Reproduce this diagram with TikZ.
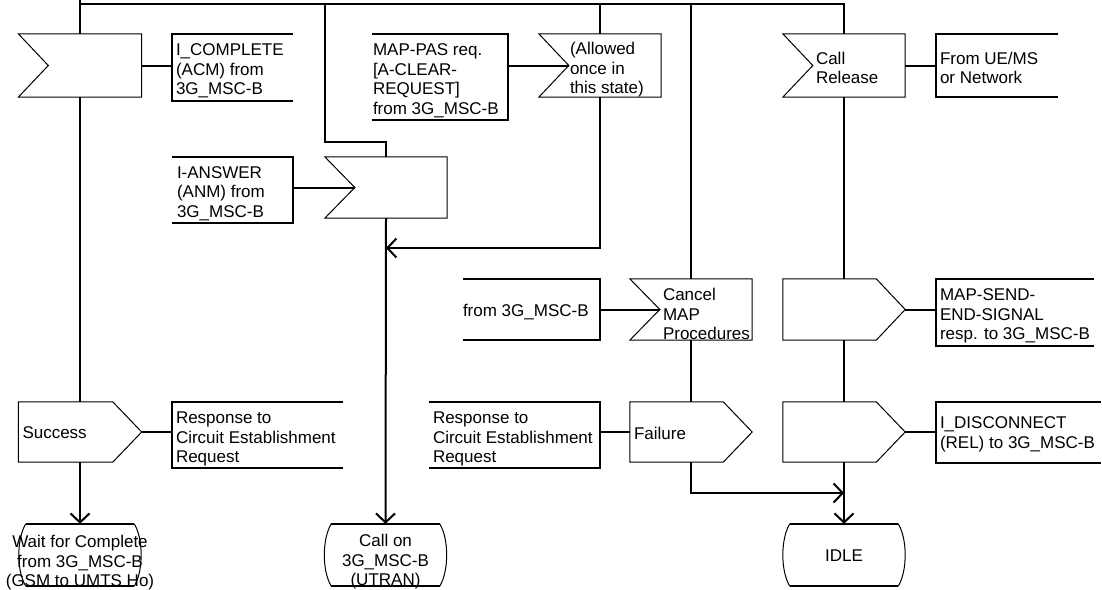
\documentclass[tikz,border=0pt]{standalone}
\usepackage{fontspec}
\setmainfont{Liberation Sans}
\usetikzlibrary{calc,arrows.meta}

% SDL symbol outlines, drawn around plain rectangle nodes
\newcommand{\drawinput}[1]{%
  \coordinate (#1n) at ($(#1.west)+(30,0)$);
  \draw[outline] (#1.north west) -- (#1.north east) -- (#1.south east)
    -- (#1.south west) -- (#1n) -- cycle;}
\newcommand{\drawoutput}[1]{%
  \draw[outline] (#1.north west) -- ($(#1.north east)+(-29,0)$) -- (#1.east)
    -- ($(#1.south east)+(-29,0)$) -- (#1.south west) -- cycle;}
\newcommand{\drawstate}[1]{%
  \draw[edge] ($(#1.north west)+(7,0)$) -- ($(#1.north east)+(-7,0)$);
  \draw[edge] ($(#1.south west)+(7,0)$) -- ($(#1.south east)+(-7,0)$);
  \draw[outline] ($(#1.north east)+(-7,0)$) .. controls ($(#1.north east)+(2.3,15)$)
    and ($(#1.south east)+(2.3,-15)$) .. ($(#1.south east)+(-7,0)$);
  \draw[outline] ($(#1.north west)+(7,0)$) .. controls ($(#1.north west)+(-2.3,15)$)
    and ($(#1.south west)+(-2.3,-15)$) .. ($(#1.south west)+(7,0)$);}
% comment brackets: open to the right / open to the left
\newcommand{\drawnoteR}[1]{%
  \draw[bracket] (#1.north east) -- (#1.north west) -- (#1.south west) -- (#1.south east);}
\newcommand{\drawnoteL}[1]{%
  \draw[bracket] (#1.north west) -- (#1.north east) -- (#1.south east) -- (#1.south west);}

\tikzset{
  every node/.style={font=\fontsize{17pt}{19.5pt}\selectfont, inner sep=0pt},
  sym/.style={rectangle, draw=none},
  label/.style={align=left, anchor=west},
  statetext/.style={align=center},
  outline/.style={line width=1pt, line join=miter},
  edge/.style={line width=2pt},
  bracket/.style={line width=2pt},
  flow/.style={line width=2pt},
  flowarrow/.style={flow, -{Straight Barb[length=9pt,width=19pt]}},
}

\begin{document}
\begin{tikzpicture}[x=1pt,y=-1pt]
\useasboundingbox (0,0) rectangle (1102,589);

% ---- signal and state symbols
\node[sym, minimum width=123pt, minimum height=63pt] (inA) at (80,65.5) {};
\node[sym, minimum width=122pt, minimum height=63pt] (inB) at (600,65.5) {};
\node[sym, minimum width=122pt, minimum height=63pt] (inC) at (844,65.5) {};
\node[sym, minimum width=122pt, minimum height=61pt] (inD) at (386,187.5) {};
\node[sym, minimum width=122pt, minimum height=61pt] (inE) at (691,309.5) {};
\node[sym, minimum width=123pt, minimum height=60pt] (outA) at (80,432) {};
\node[sym, minimum width=122pt, minimum height=60pt] (outB) at (691,432) {};
\node[sym, minimum width=122pt, minimum height=61pt] (outC) at (844,309.5) {};
\node[sym, minimum width=122pt, minimum height=60pt] (outD) at (844,432) {};
\node[sym, minimum width=122pt, minimum height=62pt] (sA) at (80,555) {};
\node[sym, minimum width=122pt, minimum height=62pt] (sB) at (385.5,555) {};
\node[sym, minimum width=122pt, minimum height=62pt] (sC) at (844,555) {};

\drawinput{inA} \drawinput{inB} \drawinput{inC} \drawinput{inD} \drawinput{inE}
\drawoutput{outA} \drawoutput{outB} \drawoutput{outC} \drawoutput{outD}
\drawstate{sA} \drawstate{sB} \drawstate{sC}

% ---- symbol texts
\node[label] (inBt) at ($(inBn)+(1,4.5)$) {(Allowed\\once in\\this state)};
\node[label] (inCt) at ($(inCn)+(3,2.5)$) {Call\\Release};
\node[label] (inEt) at ($(inEn)+(3,4.5)$) {Cancel\\MAP\\Procedures};
\node[label] (outAt) at ($(outA.west)+(4,1)$) {Success};
\node[label] (outBt) at ($(outB.west)+(4,1)$) {Failure};
\node[statetext] (sAt) at ($(sA)+(0,8)$) {Wait for Complete\\from 3G\_MSC-B\\(GSM to UMTS Ho)};
\node[statetext] (sBt) at ($(sB)+(0,7)$) {Call on\\3G\_MSC-B\\(UTRAN)};
\node[statetext] (sCt) at ($(sC)+(0,1)$) {IDLE};

% ---- comment brackets
\node[sym, minimum width=121pt, minimum height=67pt] (cA) at (232.5,67.5) {};
\node[sym, minimum width=136pt, minimum height=86pt] (cB) at (440,77) {};
\node[sym, minimum width=122pt, minimum height=63pt] (cC) at (997,65.5) {};
\node[sym, minimum width=121pt, minimum height=66pt] (cD) at (232.5,190) {};
\node[sym, minimum width=137pt, minimum height=61pt] (cE) at (531.5,309.5) {};
\node[sym, minimum width=158pt, minimum height=67pt] (cF) at (1015,312.5) {};
\node[sym, minimum width=171pt, minimum height=66pt] (cG) at (257.5,435) {};
\node[sym, minimum width=171pt, minimum height=66pt] (cH) at (514.5,435) {};
\node[sym, minimum width=165pt, minimum height=61pt] (cI) at (1018.5,432.5) {};

\drawnoteR{cA} \drawnoteL{cB} \drawnoteR{cC} \drawnoteL{cD} \drawnoteL{cE}
\drawnoteR{cF} \drawnoteR{cG} \drawnoteL{cH} \drawnoteR{cI}

\node[label] (cAt) at ($(cA.west)+(4,3.5)$) {I\_COMPLETE\\(ACM) from\\3G\_MSC-B};
\node[label] (cBt) at ($(cB.west)+(1,4)$) {MAP-PAS req.\\{}[A-CLEAR-\\REQUEST]\\from 3G\_MSC-B};
\node[label] (cCt) at ($(cC.west)+(4,2.5)$) {From UE/MS\\or Network};
\node[label] (cDt) at ($(cD.west)+(5,3.5)$) {I-ANSWER\\(ANM) from\\3G\_MSC-B};
\node[label] (cEt) at ($(cE.west)+(0,2.5)$) {from 3G\_MSC-B};
\node[label] (cFt) at ($(cF.west)+(4,3.5)$) {MAP-SEND-\\END-SIGNAL\\resp. to 3G\_MSC-B};
\node[label] (cGt) at ($(cG.west)+(4,4)$) {Response to\\Circuit Establishment\\Request};
\node[label] (cHt) at ($(cH.west)+(4,4)$) {Response to\\Circuit Establishment\\Request};
\node[label] (cIt) at ($(cI.west)+(4,2)$) {I\_DISCONNECT\\(REL) to 3G\_MSC-B};

% ---- flow lines
\coordinate (entry) at (80,0);
\coordinate (topL) at (80,4);
\coordinate (bendD) at (325,142);
\coordinate (retB) at (600,248);
\coordinate (retF) at (691,493);

\draw[flow] (entry) -- (inA.north);
\draw[flow] (topL) -- (topL -| inC.north) -- (inC.north);
\draw[flow] (topL -| inB.north) -- (inB.north);
\draw[flow] (topL -| inE.north) -- (inE.north);
\draw[flow] (topL -| bendD) -- (bendD) -- (bendD -| inD.north) -- (inD.north);

\draw[flow] (inA.south) -- (outA.north);
\draw[flowarrow] (outA.south) -- (sA.north);
\draw[flow] (inA.east) -- (inA.east -| cA.west);
\draw[flow] (outA.east) -- (outA.east -| cG.west);

\draw[flow] (cB.east |- inBn) -- (inBn);
\draw[flowarrow] (inB.south) -- (retB) -- (retB -| inD.south);
\draw[flow] (cD.east |- inDn) -- (inDn);
\draw[flowarrow] (inD.south) -- (sB.north);

\draw[flow] (cE.east |- inEn) -- (inEn);
\draw[flow] (inE.south) -- (outB.north);
\draw[flow] (cH.east |- outB.west) -- (outB.west);
\draw[flowarrow] (outB.south) -- (retF) -- (retF -| sC.north);

\draw[flow] (inC.east) -- (inC.east -| cC.west);
\draw[flow] (inC.south) -- (outC.north);
\draw[flow] (outC.east) -- (outC.east -| cF.west);
\draw[flow] (outC.south) -- (outD.north);
\draw[flow] (outD.east) -- (outD.east -| cI.west);
\draw[flowarrow] (outD.south) -- (sC.north);
\end{tikzpicture}
\end{document}
